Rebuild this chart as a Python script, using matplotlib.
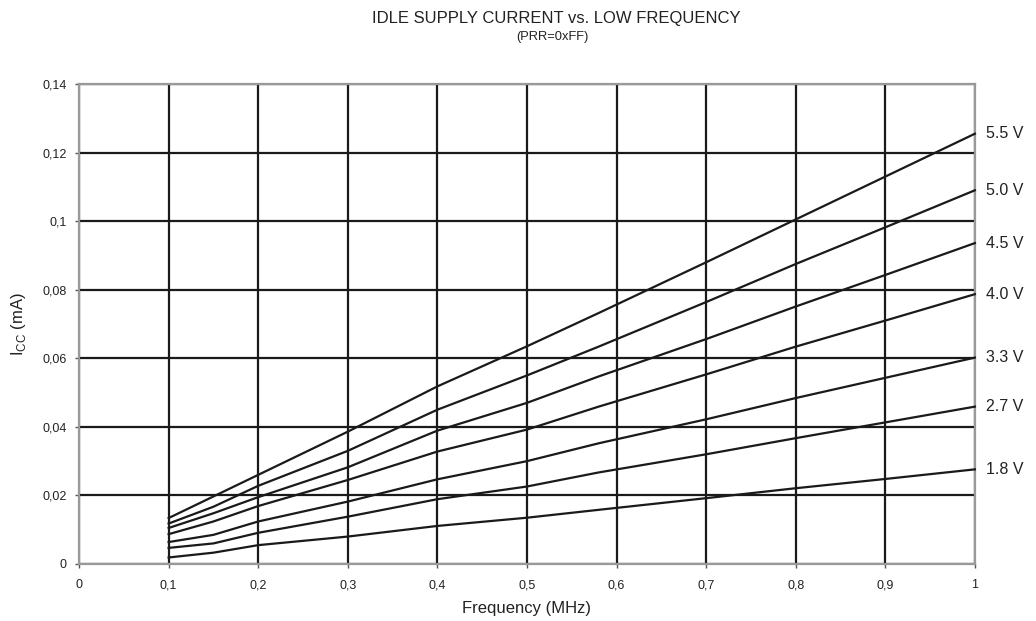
import matplotlib
matplotlib.use("Agg")
import matplotlib.pyplot as plt

plt.rcParams['font.family'] = ['Liberation Sans', 'DejaVu Sans']
plt.rcParams['mathtext.fontset'] = 'custom'
plt.rcParams['mathtext.rm'] = 'Liberation Sans'

freq = [0.1, 0.15, 0.2, 0.3, 0.4, 0.5, 0.58, 0.7, 0.8, 0.9, 1.0]
series = {
    "5.5 V": [0.0134, 0.0197, 0.0260, 0.0386, 0.0518, 0.0635, 0.0732, 0.0880, 0.1005, 0.1130, 0.1255],
    "5.0 V": [0.0118, 0.0167, 0.0228, 0.0330, 0.0450, 0.0550, 0.0634, 0.0764, 0.0875, 0.0982, 0.1090],
    "4.5 V": [0.0105, 0.0148, 0.0195, 0.0282, 0.0389, 0.0470, 0.0547, 0.0656, 0.0751, 0.0843, 0.0936],
    "4.0 V": [0.0087, 0.0124, 0.0169, 0.0245, 0.0328, 0.0392, 0.0459, 0.0553, 0.0634, 0.0710, 0.0787],
    "3.3 V": [0.0064, 0.0085, 0.0124, 0.0182, 0.0247, 0.0300, 0.0352, 0.0422, 0.0484, 0.0543, 0.0602],
    "2.7 V": [0.0047, 0.0060, 0.0091, 0.0138, 0.0189, 0.0226, 0.0267, 0.0320, 0.0367, 0.0413, 0.0459],
    "1.8 V": [0.0019, 0.0033, 0.0055, 0.0080, 0.0111, 0.0135, 0.0158, 0.0192, 0.0221, 0.0248, 0.0276],
}
xticks = [0, 0.1, 0.2, 0.3, 0.4, 0.5, 0.6, 0.7, 0.8, 0.9, 1.0]
xticklabels = ["0", "0,1", "0,2", "0,3", "0,4", "0,5", "0,6", "0,7", "0,8", "0,9", "1"]
yticks = [0, 0.02, 0.04, 0.06, 0.08, 0.1, 0.12, 0.14]
yticklabels = ["0", "0,02", "0,04", "0,06", "0,08", "0,1", "0,12", "0,14"]

fig = plt.figure(figsize=(10.36, 6.21), dpi=100)
ax = fig.add_axes([0.0763, 0.0918, 0.8647, 0.7729])
ax.set_xlim(0, 1)
ax.set_ylim(0, 0.14)

ax.set_xticks(xticks)
ax.set_xticklabels(xticklabels)
ax.set_yticks(yticks)
ax.set_yticklabels(yticklabels)
ax.grid(True, color='#1a1a1a', linewidth=1.6, zorder=1)
ax.set_axisbelow(True)

for name, vals in series.items():
    ax.plot(freq, vals, color='#1a1a1a', linewidth=1.6, zorder=3, clip_on=False)
    ax.text(1.012, vals[-1], name, transform=ax.get_yaxis_transform(),
            va='center', ha='left', fontsize=11.5, color='#222222')

for s in ax.spines.values():
    s.set_color('#999999')
    s.set_linewidth(1.6)
    s.set_zorder(2)

ax.tick_params(axis='both', direction='out', length=3, width=1, color='#555555',
               labelsize=9, labelcolor='#222222')
ax.tick_params(axis='x', pad=8)
ax.tick_params(axis='y', pad=6)

ax.set_xlabel("Frequency (MHz)", fontsize=12, color='#222222', labelpad=7)
ax.set_ylabel(r"I$_{\mathregular{CC}}$ (mA)", fontsize=12, color='#222222', labelpad=10)

fig.text(0.537, 0.970, "IDLE SUPPLY CURRENT vs. LOW FREQUENCY", ha='center', va='center',
         fontsize=12, color='#222222')
fig.text(0.533, 0.941, "(PRR=0xFF)", ha='center', va='center', fontsize=9.3, color='#222222')

fig.savefig("out.png", dpi=100)
